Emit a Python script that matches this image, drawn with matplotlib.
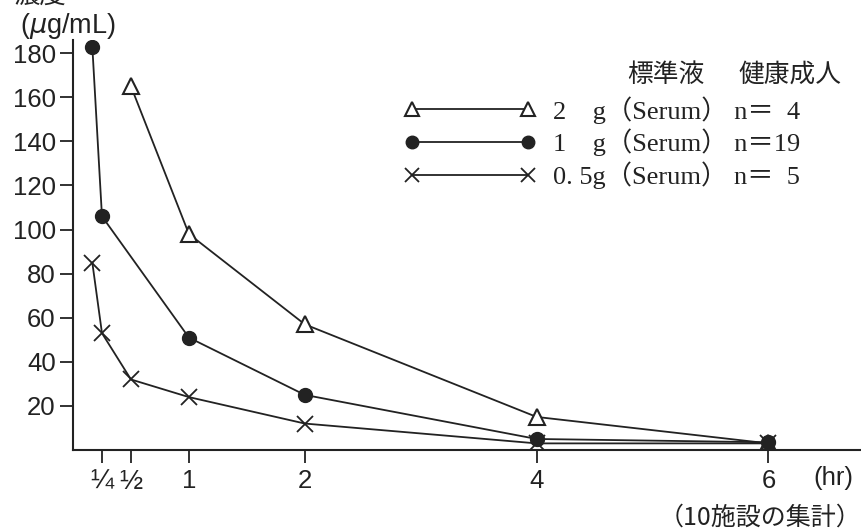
import numpy as np
import matplotlib.pyplot as plt

# 時間 (hr) と 濃度 (μg/mL)
t_2g = [0.5, 1, 2, 4, 6]
c_2g = [165, 98, 57, 15, 3]
t_1g = [1/6, 0.25, 1, 2, 4, 6]
c_1g = [183, 106, 51, 25, 5, 3.5]
t_05g = [1/6, 0.25, 0.5, 1, 2, 4, 6]
c_05g = [85, 53, 32, 24, 12, 3, 3]

xticks = [0.25, 0.5, 1, 2, 4, 6]
xticklabels = ["¼", "½", "1", "2", "4", "6"]
yticks = [20, 40, 60, 80, 100, 120, 140, 160, 180]

labels = ["2    g（Serum） n＝  4",
          "1    g（Serum） n＝19",
          "0. 5g（Serum） n＝  5"]

ink = "#222222"
sans = ["Liberation Sans", "DejaVu Sans"]
jp = ["Noto Sans CJK JP", "DejaVu Sans"]
serif = ["Liberation Serif", "Noto Sans CJK JP"]

fig = plt.figure(figsize=(8.62, 5.31), dpi=100)
ax = fig.add_axes([73/862, 1 - 450/531, 787/862, 410/531])

l1, = ax.plot(t_2g, c_2g, color=ink, lw=1.3, marker="^", ms=11,
              mfc="white", mec=ink, mew=1.5)
l2, = ax.plot(t_1g, c_1g, color=ink, lw=1.3, marker="o", ms=10,
              mfc=ink, mec=ink)
l3, = ax.plot(t_05g, c_05g, color=ink, lw=1.3, marker="x", ms=11,
              mec=ink, mew=1.3)

ax.set_xlim(0, 6.79)
ax.set_ylim(0, 186)
ax.set_xticks(xticks)
ax.set_xticklabels(xticklabels, family=sans, fontsize=18.5)
for lab in ax.get_xticklabels()[:2]:
    lab.set_fontsize(20)
ax.set_yticks(yticks)
ax.set_yticklabels([str(v) for v in yticks], family=sans, fontsize=18.5)
ax.tick_params(length=9.5, width=1.3, color=ink, labelcolor=ink, pad=3)
ax.tick_params(axis="x", pad=4)
for s in ["top", "right"]:
    ax.spines[s].set_visible(False)
for s in ["left", "bottom"]:
    ax.spines[s].set_linewidth(1.5)
    ax.spines[s].set_color(ink)

leg = ax.legend([l1, l2, l3], labels, loc="upper left",
                bbox_to_anchor=(404/862, 1 - 96/531),
                bbox_transform=fig.transFigure, frameon=False,
                numpoints=2, handlelength=5.0, handletextpad=0.65,
                borderpad=0, borderaxespad=0, labelspacing=0.2,
                markerscale=0.9,
                prop={"family": serif, "size": 19})
for t in leg.get_texts():
    t.set_color(ink)

fig.text(627/862, 1 - 75/531, "標準液", family=jp, fontsize=18.5,
         color=ink, va="center", ha="left")
fig.text(738/862, 1 - 75/531, "健康成人", family=jp, fontsize=18.5,
         color=ink, va="center", ha="left")

fig.text(20/862, 1 - 26/531, "($\\mu$g/mL)", family=sans, fontsize=19.5,
         color=ink, va="center", ha="left")
fig.text(14/862, 1 - 3/531, "濃度", family=jp, fontsize=19,
         color=ink, va="baseline", ha="left")
fig.text(833/862, 1 - 478/531, "(hr)", family=sans, fontsize=18.5,
         color=ink, va="center", ha="center")
fig.text(861/862, 1 - 518/531, "（10施設の集計）", family=jp, fontsize=18,
         color=ink, va="center", ha="right")

fig.savefig("out.png", dpi=100)
